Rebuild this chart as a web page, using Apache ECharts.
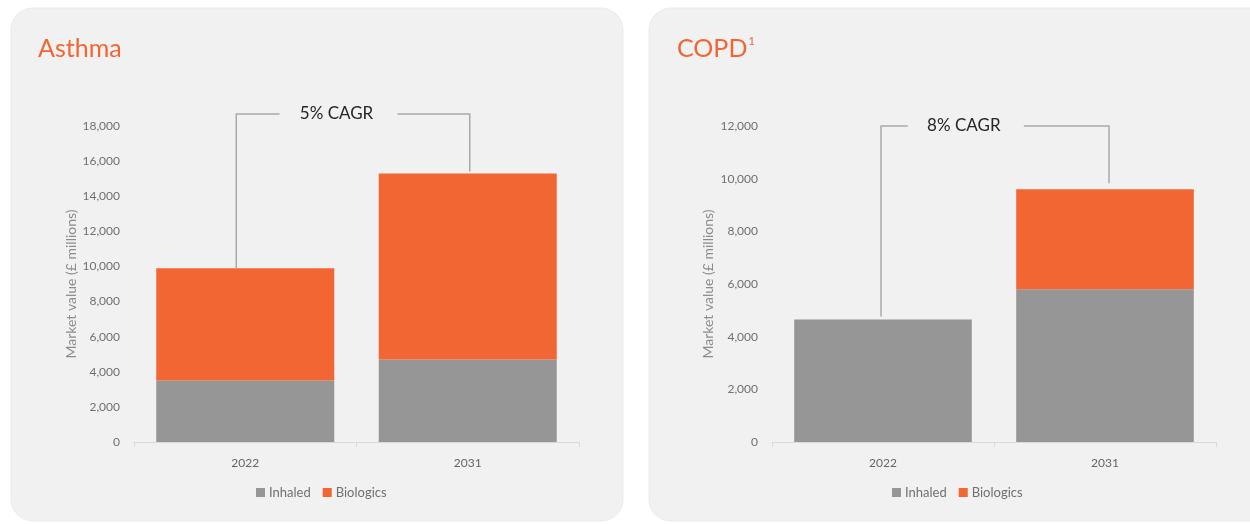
<!DOCTYPE html>
<html>
<head>
<meta charset="utf-8">
<script src="https://cdn.jsdelivr.net/npm/echarts@6/dist/echarts.min.js"></script>
<style>
  html, body { margin: 0; padding: 0; background: #ffffff; }
  #chart { width: 1250px; height: 524px; }
</style>
</head>
<body>
<div id="chart"></div>
<script>
// Market value by year, £ millions
const categories = ['2022', '2031'];
const asthmaInhaled = [3500, 4700];
const asthmaBiologics = [6400, 10600];
const copdInhaled = [4650, 5800];
const copdBiologics = [0, 3800];
const seriesNames = ['Inhaled', 'Biologics'];
const panelTitles = ['Asthma', 'COPD'];
const cagrLabels = ['5% CAGR', '8% CAGR'];
const yAxisMax = [18000, 12000];
const yAxisStep = 2000;
const yAxisName = 'Market value (£ millions)';

const FONT = 'Lato, "Open Sans", sans-serif';
const GREY = '#969696';
const ORANGE = '#f26634';
const PANEL = '#f1f1f1';

// Layout of the two panels
const panels = [
  { x: 11, w: 612, grid: { left: 134, width: 445 }, legendLeft: 256, titleLeft: 38,
    bracket: { rise: 12, dx: [-9, 2], drop: [0, 2], textAt: 0.438, gapHalf: 59 } },
  { x: 649, w: 640, grid: { left: 772, width: 444 }, legendLeft: 892, titleLeft: 677,
    bracket: { rise: 0, dx: [-2, 4], drop: [3, 6], textAt: 0.372, gapHalf: 58 } }
];

const sum = (a, b) => a.map((v, i) => v + b[i]);
const inhaled = [asthmaInhaled, copdInhaled];
const biologics = [asthmaBiologics, copdBiologics];

const fmt = v => v.toLocaleString('en-US');

const grids = [], xAxes = [], yAxes = [], series = [], legends = [];

panels.forEach((p, i) => {
  grids.push({ left: p.grid.left, width: p.grid.width, top: 126, bottom: 82, containLabel: false });
  xAxes.push({
    type: 'category', gridIndex: i, data: categories,
    axisLine: { lineStyle: { color: '#d9d9d9', width: 1 } },
    axisTick: { show: true, length: 5, lineStyle: { color: '#d9d9d9' } },
    axisLabel: { color: '#666666', fontSize: 12, fontFamily: FONT, margin: 15 }
  });
  yAxes.push({
    type: 'value', gridIndex: i, min: 0, max: yAxisMax[i], interval: yAxisStep,
    name: yAxisName, nameLocation: 'middle', nameGap: i === 0 ? 55 : 57,
    nameTextStyle: { color: '#8c8c8c', fontSize: 14, fontFamily: FONT },
    axisLine: { show: false }, axisTick: { show: false }, splitLine: { show: false },
    axisLabel: { color: '#707070', fontSize: 12, fontFamily: FONT, margin: 14, formatter: fmt }
  });
  series.push({
    name: seriesNames[0], type: 'bar', stack: 'total' + i, xAxisIndex: i, yAxisIndex: i,
    data: inhaled[i], barCategoryGap: '20%', itemStyle: { color: GREY }
  });
  series.push({
    name: seriesNames[1], type: 'bar', stack: 'total' + i, xAxisIndex: i, yAxisIndex: i,
    data: biologics[i], barCategoryGap: '20%', itemStyle: { color: ORANGE }
  });

  // CAGR bracket joining the two bar tops
  const totals = sum(inhaled[i], biologics[i]);
  const b = p.bracket;
  const label = cagrLabels[i];
  const maxVal = yAxisMax[i];
  series.push({
    name: 'cagr' + i, type: 'custom', xAxisIndex: i, yAxisIndex: i, silent: true, z: 5,
    data: [[0, totals[0], totals[1]]],
    encode: { x: 0, y: 1 },
    renderItem: (params, api) => {
      const a = api.coord([0, api.value(1)]);
      const c = api.coord([1, api.value(2)]);
      const top = api.coord([0, maxVal])[1] - b.rise;
      const x0 = a[0] + b.dx[0], x1 = c[0] + b.dx[1];
      const mid = x0 + (x1 - x0) * b.textAt;
      const line = { stroke: '#a9a9a9', lineWidth: 1.5, fill: null };
      return {
        type: 'group',
        children: [
          { type: 'polyline', shape: { points: [[x0, a[1] - b.drop[0]], [x0, top], [mid - b.gapHalf, top]] }, style: line },
          { type: 'polyline', shape: { points: [[mid + b.gapHalf, top], [x1, top], [x1, c[1] - b.drop[1]]] }, style: line },
          { type: 'text', x: mid - 2, y: top, style: { text: label, fill: '#262626', fontSize: 17, fontFamily: FONT, align: 'center', verticalAlign: 'middle' } }
        ]
      };
    }
  });

  legends.push({
    data: seriesNames, left: p.legendLeft, top: 486, padding: 0, icon: 'rect',
    itemWidth: 9, itemHeight: 9, itemGap: 12, selectedMode: false,
    textStyle: { color: '#707070', fontSize: 13, fontFamily: FONT, padding: [0, 0, 0, -1] }
  });
});

const titles = [
  {
    text: panelTitles[0], left: panels[0].titleLeft, top: 36, padding: 0,
    textStyle: { color: ORANGE, fontSize: 25, fontWeight: 'normal', fontFamily: FONT }
  },
  {
    text: panelTitles[1] + '{sup|1}', left: panels[1].titleLeft, top: 36, padding: 0,
    textStyle: {
      color: ORANGE, fontSize: 25, fontWeight: 'normal', fontFamily: FONT,
      rich: { sup: { color: ORANGE, fontSize: 11, fontFamily: FONT, verticalAlign: 'top', padding: [0, 0, 10, 1] } }
    }
  }
];

const chart = echarts.init(document.getElementById('chart'), null, { renderer: 'canvas' });
chart.setOption({
  backgroundColor: '#ffffff',
  animation: false,
  graphic: panels.map(p => ({
    type: 'rect', z: -10, silent: true,
    shape: { x: p.x, y: 8, width: p.w, height: 513, r: 22 },
    style: { fill: PANEL, stroke: '#ebebeb', lineWidth: 1 }
  })),
  title: titles,
  legend: legends,
  grid: grids,
  xAxis: xAxes,
  yAxis: yAxes,
  series: series
});
</script>
</body>
</html>
